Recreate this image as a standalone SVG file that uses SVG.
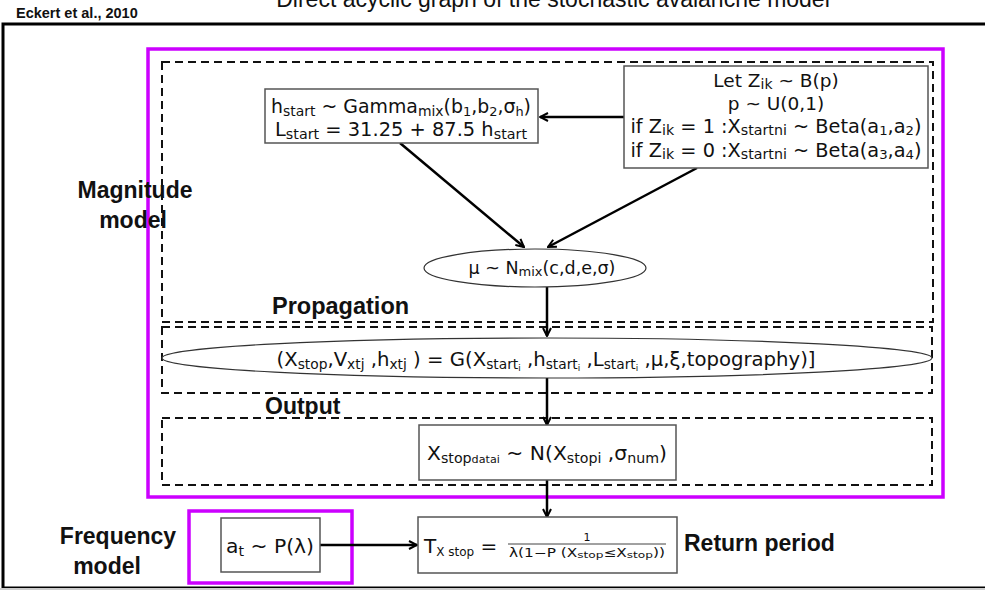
<svg xmlns="http://www.w3.org/2000/svg" width="985" height="591" viewBox="0 0 985 591">
<style>
.lbl{font-family:"Liberation Sans",Arial,sans-serif;font-weight:bold;fill:#111;}
.m{font-family:"DejaVu Sans","Liberation Sans",sans-serif;fill:#111;}
.node{fill:#fff;stroke:#555;stroke-width:1.5;}
.dash{fill:none;stroke:#111;stroke-width:2;stroke-dasharray:8,5;}
.mag{fill:none;stroke:#cc00ff;stroke-width:3.5;}
.con{fill:none;stroke:#000;stroke-width:2.5;}
</style>
<defs>
<marker id="ah" viewBox="0 0 10 10" refX="9" refY="5" markerWidth="4" markerHeight="4" orient="auto" markerUnits="strokeWidth">
<path d="M1,1 L9,5 L1,9" fill="none" stroke="#000" stroke-width="2"/>
</marker>
</defs>
<rect width="985" height="591" fill="#fff"/>
<text x="553" y="7" font-family="Liberation Sans,Arial,sans-serif" font-size="23" fill="#111" text-anchor="middle">Direct acyclic graph of the stochastic avalanche model</text>
<text x="16" y="18" class="lbl" font-size="14.5">Eckert et al., 2010</text>
<rect x="3" y="24" width="990" height="564" fill="none" stroke="#000" stroke-width="3"/>
<line x1="0" y1="589" x2="985" y2="589" stroke="#ccc" stroke-width="2"/>

<g id="frames">
<rect x="148" y="49" width="795" height="448" class="mag"/>
<rect x="162" y="62" width="771" height="260" class="dash"/>
<rect x="162" y="327" width="770" height="66" class="dash"/>
<rect x="162" y="418" width="770" height="67" class="dash"/>
<rect x="189" y="511" width="163" height="72" class="mag"/>
</g>

<g id="labels">
<text x="135" y="198" class="lbl" font-size="23" text-anchor="middle">Magnitude</text>
<text x="133" y="228" class="lbl" font-size="23" text-anchor="middle">model</text>
<text x="272" y="314" class="lbl" font-size="23.5">Propagation</text>
<text x="265" y="414" class="lbl" font-size="23">Output</text>
<text x="118" y="544" class="lbl" font-size="23" text-anchor="middle">Frequency</text>
<text x="107" y="574" class="lbl" font-size="23" text-anchor="middle">model</text>
<text x="684" y="551" class="lbl" font-size="23">Return period</text>
</g>

<g id="connectors">
<line x1="624" y1="117" x2="540" y2="117" class="con" marker-end="url(#ah)"/>
<line x1="400" y1="143" x2="524" y2="247" class="con" marker-end="url(#ah)"/>
<line x1="697" y1="168" x2="548" y2="247" class="con" marker-end="url(#ah)"/>
<line x1="547" y1="287" x2="547" y2="336" class="con" marker-end="url(#ah)"/>
<line x1="547" y1="378" x2="547" y2="425" class="con" marker-end="url(#ah)"/>
<line x1="547" y1="480" x2="547" y2="517" class="con" marker-end="url(#ah)"/>
<line x1="320" y1="545" x2="417" y2="545" class="con" marker-end="url(#ah)"/>
</g>

<g id="n-hstart">
<rect x="265" y="89" width="273" height="54" class="node"/>
<text x="401" y="113" class="m" font-size="19" text-anchor="middle" textLength="260" lengthAdjust="spacingAndGlyphs">h<tspan font-size="14" dy="3">start</tspan><tspan dy="-3"> ~ Gamma</tspan><tspan font-size="14" dy="3">mix</tspan><tspan dy="-3">(b</tspan><tspan font-size="13" dy="3">1</tspan><tspan dy="-3">,b</tspan><tspan font-size="13" dy="3">2</tspan><tspan dy="-3">,σ</tspan><tspan font-size="13" dy="3">h</tspan><tspan dy="-3">)</tspan></text>
<text x="401" y="136" class="m" font-size="19" text-anchor="middle" textLength="252" lengthAdjust="spacingAndGlyphs">L<tspan font-size="14" dy="3">start</tspan><tspan dy="-3"> = 31.25 + 87.5 h</tspan><tspan font-size="14" dy="3">start</tspan></text>
</g>

<g id="n-zik">
<rect x="624" y="66" width="304" height="102" class="node"/>
<text x="776" y="87" class="m" font-size="18.5" text-anchor="middle">Let Z<tspan font-size="14" dy="2">ik</tspan><tspan dy="-2"> ~ B(p)</tspan></text>
<text x="776" y="110" class="m" font-size="18.5" text-anchor="middle">p ~ U(0,1)</text>
<text x="776" y="133" class="m" font-size="19" text-anchor="middle" textLength="291" lengthAdjust="spacingAndGlyphs">if Z<tspan font-size="14" dy="2">ik</tspan><tspan dy="-2"> = 1 :X</tspan><tspan font-size="14" dy="2">startni</tspan><tspan dy="-2"> ~ Beta(a</tspan><tspan font-size="13" dy="2">1</tspan><tspan dy="-2">,a</tspan><tspan font-size="13" dy="2">2</tspan><tspan dy="-2">)</tspan></text>
<text x="776" y="157" class="m" font-size="19" text-anchor="middle" textLength="291" lengthAdjust="spacingAndGlyphs">if Z<tspan font-size="14" dy="2">ik</tspan><tspan dy="-2"> = 0 :X</tspan><tspan font-size="14" dy="2">startni</tspan><tspan dy="-2"> ~ Beta(a</tspan><tspan font-size="13" dy="2">3</tspan><tspan dy="-2">,a</tspan><tspan font-size="13" dy="2">4</tspan><tspan dy="-2">)</tspan></text>
</g>

<g id="n-mu">
<ellipse cx="535" cy="268" rx="111" ry="19" fill="#fff" stroke="#333" stroke-width="1.2"/>
<text x="542" y="274" class="m" font-size="17.5" text-anchor="middle">μ ~ N<tspan font-size="13" dy="2">mix</tspan><tspan dy="-2">(c,d,e,σ)</tspan></text>
</g>

<g id="n-prop">
<ellipse cx="547" cy="358" rx="385" ry="20" fill="#fff" stroke="#333" stroke-width="1.2"/>
<text x="546" y="366" class="m" font-size="20" text-anchor="middle" textLength="539" lengthAdjust="spacingAndGlyphs">(X<tspan font-size="14" dy="3">stop</tspan><tspan dy="-3">,V</tspan><tspan font-size="14" dy="3">xtj</tspan><tspan dy="-3"> ,h</tspan><tspan font-size="14" dy="3">xtj</tspan><tspan dy="-3"> ) = G(X</tspan><tspan font-size="14" dy="3">start</tspan><tspan font-size="9" dy="2">i</tspan><tspan dy="-5"> ,h</tspan><tspan font-size="14" dy="3">start</tspan><tspan font-size="9" dy="2">i</tspan><tspan dy="-5"> ,L</tspan><tspan font-size="14" dy="3">start</tspan><tspan font-size="9" dy="2">i</tspan><tspan dy="-5"> ,μ,ξ,topography)]</tspan></text>
</g>

<g id="n-output">
<rect x="419" y="425" width="257" height="55" class="node"/>
<text x="547" y="460" class="m" font-size="20" text-anchor="middle" textLength="240" lengthAdjust="spacingAndGlyphs">X<tspan font-size="14" dy="3">stop</tspan><tspan font-size="11" dy="0">datai</tspan><tspan dy="-3"> ~ N(X</tspan><tspan font-size="14" dy="3">stopi</tspan><tspan dy="-3"> ,σ</tspan><tspan font-size="14" dy="3">num</tspan><tspan dy="-3">)</tspan></text>
</g>

<g id="n-freq">
<rect x="221" y="518" width="99" height="54" class="node"/>
<text x="270" y="553" class="m" font-size="20" text-anchor="middle" textLength="88" lengthAdjust="spacingAndGlyphs">a<tspan font-size="14" dy="3">t</tspan><tspan dy="-3"> ~ P(λ)</tspan></text>
</g>

<g id="n-return">
<rect x="418" y="517" width="259" height="56" class="node"/>
<text x="424" y="553" class="m" font-size="20">T<tspan font-size="12" dy="3">X stop</tspan><tspan dy="-3">  =</tspan></text>
<text x="587" y="541" class="m" font-size="11" text-anchor="middle">1</text>
<line x1="508" y1="544" x2="666" y2="544" stroke="#111" stroke-width="0.8"/>
<text x="587" y="557" class="m" font-size="12" text-anchor="middle" textLength="156" lengthAdjust="spacingAndGlyphs">λ(1−P (X<tspan font-size="9.5" dy="1">stop</tspan><tspan dy="-1">≤X</tspan><tspan font-size="9.5" dy="1">stop</tspan><tspan dy="-1">))</tspan></text>
</g>
</svg>
